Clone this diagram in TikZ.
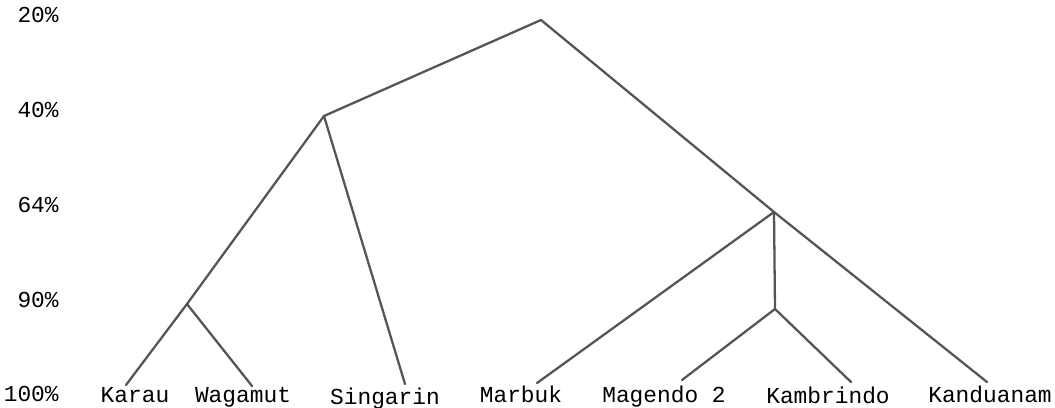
\documentclass[tikz,border=0pt]{standalone}
\usepackage{fontspec}
\setmonofont{Liberation Mono}
\usepackage{tikz}
\usetikzlibrary{positioning}
\definecolor{treegray}{HTML}{555555}

\begin{document}
\begin{tikzpicture}[x=0.02cm, y=-0.02cm,
  branch/.style={treegray, line width=1.3pt, line cap=round, line join=round},
  level/.style={font=\fontsize{13}{15}\selectfont\ttfamily, anchor=base east, inner sep=0pt},
  leaf/.style={font=\fontsize{13}{15}\selectfont\ttfamily, anchor=base, inner sep=0pt}
]
  \useasboundingbox (0,0) rectangle (1055,408);

  % Similarity scale
  \node[level] (p20)  at (59, 23)  {20\%};
  \node[level] (p40)  at (59, 118) {40\%};
  \node[level] (p64)  at (59, 213) {64\%};
  \node[level] (p90)  at (59, 308) {90\%};
  \node[level] (p100) at (59, 402) {100\%};

  % Languages
  \node[leaf] (karau)     at (135, 403) {Karau};
  \node[leaf] (wagamut)   at (243, 403) {Wagamut};
  \node[leaf] (singarin)  at (385, 405) {Singarin};
  \node[leaf] (marbuk)    at (521, 403) {Marbuk};
  \node[leaf] (magendo)   at (664, 403) {Magendo 2};
  \node[leaf] (kambrindo) at (828, 404) {Kambrindo};
  \node[leaf] (kanduanam) at (990, 403) {Kanduanam};

  % Junctions
  \coordinate (root) at (541, 20);
  \coordinate (j40)  at (324, 116);
  \coordinate (j64)  at (774, 212);
  \coordinate (j90a) at (187, 304);
  \coordinate (j90b) at (775, 309);

  % Branch ends above the labels
  \coordinate (e-karau)     at (126, 385);
  \coordinate (e-wagamut)   at (252, 386);
  \coordinate (e-singarin)  at (405, 384);
  \coordinate (e-marbuk)    at (537, 383);
  \coordinate (e-magendo)   at (682, 380);
  \coordinate (e-kambrindo) at (851, 382);
  \coordinate (e-kanduanam) at (987, 382);

  % Left group
  \draw[branch] (root) -- (j40) -- (j90a) -- (e-karau);
  \draw[branch] (j90a) -- (e-wagamut);
  \draw[branch] (j40) -- (e-singarin);

  % Right group
  \draw[branch] (root) -- (j64) -- (e-kanduanam);
  \draw[branch] (j64) -- (e-marbuk);
  \draw[branch] (j64) -- (j90b);
  \draw[branch] (j90b) -- (e-magendo);
  \draw[branch] (j90b) -- (e-kambrindo);
\end{tikzpicture}
\end{document}
